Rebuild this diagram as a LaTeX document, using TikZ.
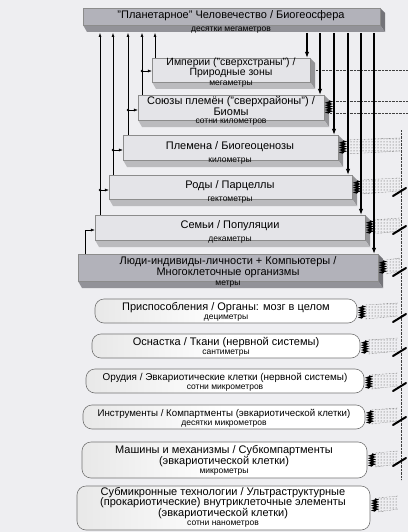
\documentclass[tikz,border=0pt]{standalone}
\usepackage{fontspec}
\setmainfont{Liberation Sans}
\usetikzlibrary{arrows.meta,decorations.pathmorphing,patterns}
\definecolor{bg}{HTML}{EEEEF1}
\definecolor{pl}{HTML}{E4E4E8}
\definecolor{pd}{HTML}{B2B2BA}
\newcommand\prismblk[6]{%
  \fill[#6!65!black] (#4,#3) -- (#4+5,#3+5) -- (#4+5,#5+7) -- (#4,#5) -- cycle;
  \fill[#6!82!black] (#2,#5) -- (#4,#5) -- (#4+5,#5+7) -- (#2+4,#5+7) -- cycle;
  \node[face, fill=#6, minimum width={(#4-#2)*1pt}, minimum height={(#5-#3)*1pt}] (#1) at ({(#2+#4)/2},{(#3+#5)/2}) {};
}
\newcommand\rbx[5]{%
  \node[rbox, minimum width={(#4-#2)*1pt}, minimum height={(#5-#3)*1pt}] (#1) at ({(#2+#4)/2},{(#3+#5)/2}) {};
}
\newcommand\squig[2]{%
  \draw[squigst] (#1,#2-6) -- (#1,#2+6);
}
\newcommand\dotreg[3]{% x start, y, right x
  \fill[pattern=dots, pattern color=black!70] (#1+3,#2-7) -- (#3,#2-9) -- (#3,#2+4) -- (#1+3,#2+7) -- cycle;
  \draw[densely dotted, black!70] (#1+3,#2-7) -- (#3,#2-9);
  \draw[densely dotted, black!70] (#1+3,#2+7) -- (#3,#2+4);
}
\newcommand\tick[1]{%
  \draw[line width=2pt, line cap=round] (393,#1+6) -- (406,#1-2);
}
\begin{document}
\begin{tikzpicture}[x=1pt,y=-1pt,
  face/.style={inner sep=0pt, draw=black!45, line width=0.4pt},
  rbox/.style={inner sep=0pt, draw=black!55, left color=black!9, right color=white, middle color=white, rounded corners=9pt, line width=0.6pt},
  mt/.style={font=\fontsize{11}{10.5}\selectfont, inner sep=0pt, align=center},
  mts/.style={font=\fontsize{9.9}{10.5}\selectfont, inner sep=0pt, align=center},
  ut/.style={font=\fontsize{8.5}{9}\selectfont, inner sep=0pt},
  thin/.style={line width=0.5pt, -{Latex[length=4pt,width=3pt]}},
  down/.style={line width=1.1pt, -{Latex[length=6pt,width=4.5pt]}},
  squigst/.style={line width=1.5pt, decorate, decoration={zigzag, amplitude=1.8pt, segment length=2.4pt}},
  jdot/.style={circle, fill=black, inner sep=0pt, minimum size=2.6pt}]
\fill[bg] (0,0) rectangle (408,532);
\useasboundingbox (0,0) rectangle (408,532);

% right side decorations
\draw[densely dotted, black!75] (316,70) -- (408,70);
\draw[densely dotted, black!75] (330,101) -- (408,101);
\draw[densely dotted, black!75] (330,113) -- (408,113);
\draw[densely dotted, black!75] (401,130) -- (401,480);
\dotreg{343}{147}{400}
\dotreg{357}{187}{400}
\dotreg{370}{227}{400}
\dotreg{383}{267}{400}
\dotreg{362}{312}{398}
\dotreg{365}{347}{398}
\dotreg{368}{382}{398}
\dotreg{368}{417}{398}
\dotreg{372}{460}{398}
\dotreg{375}{505}{398}
\tick{190}\tick{228}\tick{270}\tick{316}\tick{350}\tick{385}\tick{419}\tick{460}

% prisms
\prismblk{planet}{83}{8}{380}{25}{pd}
\coordinate (pb) at (0,33);
\prismblk{imp}{152}{58}{310}{82}{pl}
\prismblk{soy}{138}{95}{324}{120}{pl}
\prismblk{ple}{123}{135}{338}{160}{pl}
\prismblk{rod}{109}{175}{352}{199}{pl}
\prismblk{sem}{95}{215}{365}{240}{pl}
\prismblk{lud}{78}{254}{378}{281}{pd}

\node[mt] (tplanet) at (231,16) {"Планетарное" Человечество / Биогеосфера};
\node[ut] (uplanet) at (231,30) {десятки мегаметров};
\node[mt,font=\fontsize{10.5}{10.5}\selectfont] (timp) at (231,68) {Империи ("сверхстраны") /\\Природные зоны};
\node[ut] (uimp) at (231,84) {мегаметры};
\node[mt] (tsoy) at (231,106) {Союзы племён ("сверхрайоны") /\\Биомы};
\node[ut] (usoy) at (231,122) {сотни километров};
\node[mt] (tple) at (230,147) {Племена / Биогеоценозы};
\node[ut] (uple) at (230,161) {километры};
\node[mt] (trod) at (230,186) {Роды / Парцеллы};
\node[ut] (urod) at (230,200) {гектометры};
\node[mt] (tsem) at (230,226) {Семьи / Популяции};
\node[ut] (usem) at (230,240) {декаметры};
\node[mt] (tlud) at (228,267) {Люди-индивиды-личности + Компьютеры /\\Многоклеточные организмы};
\node[ut] (ulud) at (228,284) {метры};

% squiggles on prisms
\squig{329}{107}\squig{343}{147}\squig{357}{187}\squig{370}{227}\squig{383}{267}

% rounded boxes
\rbx{pri}{95}{299}{357}{323}
\rbx{osn}{92}{334}{360}{358}
\rbx{oru}{86}{369}{364}{393}
\rbx{ins}{83}{405}{365}{429}
\rbx{mash}{82}{442}{367}{478}
\rbx{sub}{77}{486}{370}{530}
\squig{362}{312}\squig{365}{347}\squig{369}{382}\squig{370}{417}\squig{372}{460}\squig{375}{505}

\node[mt] (tpri) at (226,308) {Приспособления / Органы: мозг в целом};
\node[ut] (upri) at (226,318) {дециметры};
\node[mt] (tosn) at (226,343) {Оснастка / Ткани (нервной системы)};
\node[ut] (uosn) at (226,353) {сантиметры};
\node[mts] (toru) at (225,378) {Орудия / Эвкариотические клетки (нервной системы)};
\node[ut] (uoru) at (225,388) {сотни микрометров};
\node[mts,font=\fontsize{9.7}{10.5}\selectfont] (tins) at (224,414) {Инструменты / Компартменты (эвкариотической клетки)};
\node[ut] (uins) at (224,424) {десятки микрометров};
\node[mt] (tmash) at (224,456) {Машины и механизмы / Субкомпартменты\\(эвкариотической клетки)};
\node[ut] (umash) at (224,472) {микрометры};
\node[mt] (tsub) at (223,503) {Субмикронные технологии / Ультраструктурные\\(прокариотические) внутриклеточные элементы\\(эвкариотической клетки)};
\node[ut] (usub) at (223,524) {сотни нанометров};

% down arrows
\foreach \xx/\tgt in {307/imp, 320/soy, 334/ple, 348/rod, 361/sem, 374/lud}{
  \coordinate (dx) at (\xx,0);
  \draw[down] (dx |- pb) -- (dx |- \tgt.north);
}

% up arrows and branches
\coordinate (u1) at (155,0);
\coordinate (u2) at (142,0);
\coordinate (u3) at (128,0);
\coordinate (u4) at (113,0);
\coordinate (u5) at (100,0);
\coordinate (u6) at (85,0);
\draw[thin] (u1 |- imp.north) -- (u1 |- pb);
\draw[thin] (u2 |- soy.north) -- (u2 |- pb);
\draw[thin] (u3 |- ple.north) -- (u3 |- pb);
\draw[thin] (u4 |- rod.north) -- (u4 |- pb);
\draw[thin] (u5 |- sem.north) -- (u5 |- pb);
\coordinate (b1) at (0,71);
\coordinate (b2) at (0,110);
\coordinate (b3) at (0,150);
\coordinate (b4) at (0,190);
\coordinate (b5) at (0,230);
\node[jdot] (j1) at (u2 |- b1) {};
\node[jdot] (j2) at (u3 |- b2) {};
\node[jdot] (j3) at (u4 |- b3) {};
\node[jdot] (j4) at (u5 |- b4) {};
\draw[thin] (j1.center) -- (imp.west |- b1);
\draw[thin] (j2.center) -- (soy.west |- b2);
\draw[thin] (j3.center) -- (ple.west |- b3);
\draw[thin] (j4.center) -- (rod.west |- b4);
\draw[thin] (u6 |- lud.north) -- (u6 |- b5) -- (sem.west |- b5);
\end{tikzpicture}
\end{document}
